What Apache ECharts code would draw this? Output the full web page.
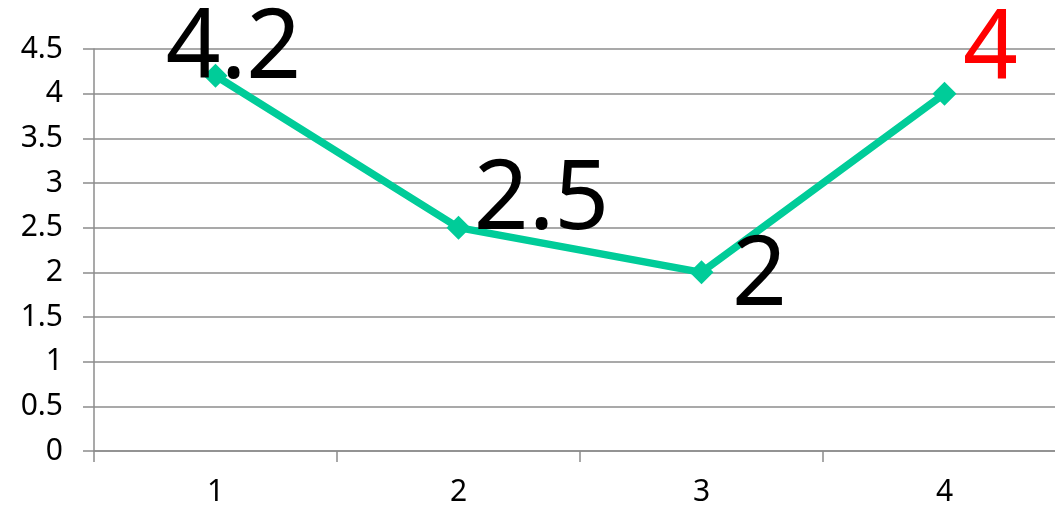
<!DOCTYPE html>
<html>
<head>
<meta charset="utf-8">
<script src="https://cdn.jsdelivr.net/npm/echarts@6/dist/echarts.min.js"></script>
<style>
  html, body { margin: 0; padding: 0; background: #fff; }
  #main { width: 1055px; height: 505px; }
</style>
</head>
<body>
<div id="main"></div>
<script>
var categories = ["1", "2", "3", "4"];
var values = [4.2, 2.5, 2, 4];
// label colours per point (last one is highlighted red)
var labelColors = ["#000", "#000", "#000", "#ff0000"];
// label offsets from each point
var labelOffsets = [[18, -25], [83, -26], [58, 5], [46, -42]];

var myChart = echarts.init(document.getElementById("main"));

var gridColor = "#8c8c8c";

myChart.setOption({
  backgroundColor: "#fff",
  animation: false,
  grid: {
    left: 94,
    width: 972,
    top: 49,
    bottom: 54,
    outerBoundsMode: "none",
    containLabel: false,
  },
  xAxis: {
    type: "category",
    data: categories,
    boundaryGap: true,
    axisLine: { lineStyle: { color: gridColor, width: 1.5 } },
    axisTick: { show: true, length: 11, lineStyle: { color: gridColor, width: 1.5 } },
    axisLabel: {
      margin: 26,
      fontSize: 30,
      fontFamily: "Noto Sans",
      color: "#000",
    },
  },
  yAxis: {
    type: "value",
    min: 0,
    max: 4.5,
    interval: 0.5,
    axisLine: { show: true, lineStyle: { color: gridColor, width: 1.5 } },
    axisTick: { show: true, length: 11, lineStyle: { color: gridColor, width: 1.5 } },
    splitLine: { show: true, lineStyle: { color: gridColor, width: 1.5 } },
    axisLabel: {
      margin: 31,
      fontSize: 30,
      fontFamily: "Noto Sans",
      color: "#000",
    },
  },
  series: [
    {
      type: "line",
      data: values.map(function (v, i) {
        return {
          value: v,
          label: {
            color: labelColors[i],
            offset: labelOffsets[i],
          },
        };
      }),
      symbol: "diamond",
      symbolSize: 24,
      lineStyle: { color: "#00cc99", width: 7.5 },
      itemStyle: { color: "#00cc99" },
      label: {
        show: true,
        position: "inside",
        fontSize: 96,
        fontFamily: "Noto Sans",
        verticalAlign: "middle",
        align: "center",
      },
    },
  ],
});
</script>
</body>
</html>
